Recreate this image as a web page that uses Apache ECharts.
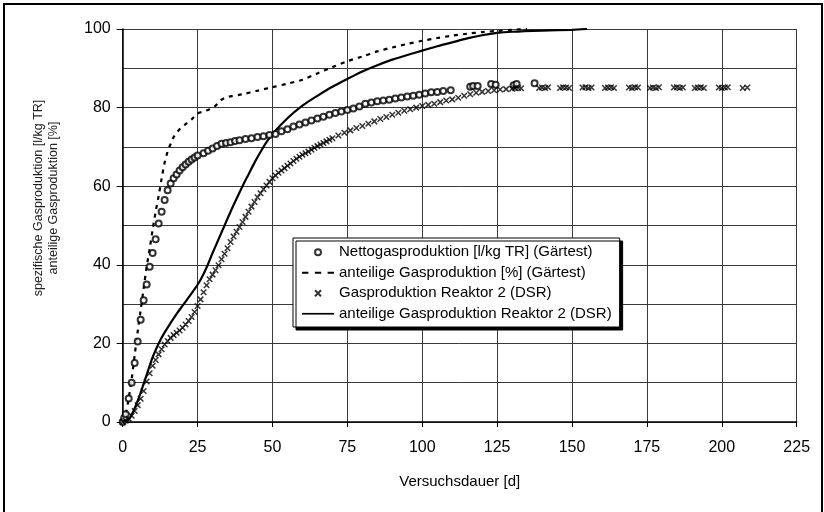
<!DOCTYPE html>
<html>
<head>
<meta charset="utf-8">
<script src="https://cdn.jsdelivr.net/npm/echarts@6/dist/echarts.min.js"></script>
<style>
html,body{margin:0;padding:0;background:#fff;}
#chart{width:824px;height:512px;}
</style>
</head>
<body>
<div id="chart"></div>
<script>
// ---- data ----
const seriesNames = [
  'Nettogasproduktion [l/kg TR] (Gärtest)',
  'anteilige Gasproduktion [%] (Gärtest)',
  'Gasproduktion Reaktor 2 (DSR)',
  'anteilige Gasproduktion Reaktor 2 (DSR)'
];
const xTicks = [0, 25, 50, 75, 100, 125, 150, 175, 200, 225];
const yTicks = [0, 20, 40, 60, 80, 100];

// Nettogasproduktion (circles)
const netDays = [0,0.5,1,2,3,4,5,6,7,8,9,10,11,12,13,14,15,16,17,18,19,20,21,22,23,24,25,
  27,28.5,30,31.5,33,34.5,36,37.5,39,
  41,43,45,47,49,51,53,55,57,59,61,63,65,67,69,71,73,75,77,79,81,83,85,87,89,91,93,95,97,99,101,103,105,107,
  109.5,116,117,118.5,123,124.5,130.5,131.5,137.5];
const netVals = [0,1,2,6,10,15,20.5,26,31,35,39.5,43,46.5,50.5,53.5,56.5,59,60.7,62,63,64,64.8,65.5,66.2,66.8,67.3,67.8,
  68.4,69,69.6,70.2,70.8,71,71.2,71.5,71.7,
  72,72.2,72.5,72.7,73,73.3,74,74.5,75.2,75.7,76.2,76.7,77.2,77.7,78.2,78.6,79,79.4,79.8,80.3,81,81.3,81.6,81.8,82,82.3,82.6,82.8,83,83.3,83.6,83.9,84,84.2,
  84.4,85.3,85.5,85.5,86,85.8,85.7,86,86.2];

// anteilige Gasproduktion Gärtest (dashed)
const dashDays = [0,1,2,3,4,5,6,7,8,9,10,11,12,13,14,15,16,17,19,21,23,25,27,29,31,33,35,
  40,45,50,55,60,65,70,75,80,85,90,95,100,105,110,115,120,125,130,135];
const dashVals = [0,2,6,11,17,23,28.5,34,39.5,44,49,53.5,57.5,62,66,68.8,70.8,72.5,74.5,75.8,77,78.5,79,79.6,80.5,82,82.7,
  83.4,84.3,85.2,86.1,87.1,88.7,90.3,91.8,93,94.3,95.3,96.2,97,97.7,98.3,98.8,99.2,99.5,99.8,100];

// Gasproduktion Reaktor 2 (x markers)
const reaDays = [0,1,2,3,4,5,6,7,8,9,10,11,12,13,14,15,16,17,18,19,20,21,22,23,24,25,26,27,28,29,
  30,31,32,33,34,35,36,37,38,39,40,41,42,43,44,45,46,47,48,49,50,51,52,53,54,55,56,57,58,59,
  60,61,62,63,64,65,66,67,68,69,70,
  72,74,76,78,80,82,84,86,88,90,92,94,96,98,100,102,104,106,108,110,112,114,116,118,
  120,122,124,126,128,
  130,131,132,133,139,140,141,142,146,147,148,149,153.5,154.5,155.5,156.5,
  161,162,163,164,169,170,171,172,176,177,178,179,184,185,186,187,
  191,192,193,194,199,200,201,202,207,208.5];
const reaVals = [0,0.3,0.8,1.6,2.8,4.3,5.9,7.9,10.3,12.4,14.3,15.8,17.2,18.5,19.7,20.6,21.4,22.1,22.7,23.3,
  24,24.8,25.7,26.7,28,29.5,31.2,33,34.8,36.3,37.5,38.6,39.9,41.4,42.8,44.2,45.8,47.2,48.4,49.6,
  50.9,52.2,53.5,54.8,56,57.2,58.2,59.2,60.2,61.1,62,62.7,63.4,64,64.6,65.2,65.8,66.4,67,67.5,
  68,68.4,68.8,69.3,69.8,70.2,70.6,71,71.4,71.8,72.2,
  72.9,73.6,74.2,74.8,75.3,75.9,76.5,77.1,77.6,78.2,78.7,79.2,79.6,80,80.4,80.7,81,81.4,81.8,82.1,82.5,83,83.4,83.8,
  84,84.2,84.4,84.6,84.7,
  84.8,84.9,85,84.9,85,85.1,85,85.2,85,85.2,85.1,85,85.1,85.2,85,85.1,
  85,85.1,85.2,85,85.1,85,85.2,85.1,85,85.1,85,85.2,85.1,85.2,85,85.1,
  85,85.1,85.2,85,85.1,85,85.1,85.2,85,85.1];

// anteilige Gasproduktion Reaktor 2 (solid)
const solDays = [0,2,4,6,8,10,12,14,16,18,20,22,24,26,28,30,32,34,36,38,40,42,44,46,48,50,
  55,60,65,70,75,80,85,90,95,100,105,110,115,120,125,130,140,150,155];
const solVals = [0,0.6,3.5,7.5,12,16.5,20,22.8,25.2,27.5,29.6,31.7,33.8,36.2,39.3,43,46.5,50,53.5,56.8,60,63,66,68.7,71.2,73.3,
  77.3,80.5,83,85.3,87.3,89.2,90.8,92.2,93.4,94.5,95.6,96.6,97.6,98.4,99,99.3,99.6,99.8,100];

// ---- chart ----
const zip = (a, b) => a.map((d, i) => [d, b[i]]);
const FONT = "'Liberation Sans', Arial, sans-serif";
const GRID = '#3a3a3a';
const chart = echarts.init(document.getElementById('chart'), null, {renderer: 'canvas'});

chart.setOption({
  animation: false,
  backgroundColor: '#fff',
  grid: {left: 122.7, right: 27.3, top: 29, bottom: 90},
  legend: {
    orient: 'vertical',
    left: 293, top: 238,
    padding: [6, 8, 5, 9],
    itemGap: 4,
    itemWidth: 32,
    itemHeight: 6,
    backgroundColor: '#fff',
    borderColor: '#000',
    borderWidth: 1,
    borderRadius: 0,
    shadowColor: '#000',
    shadowBlur: 0,
    shadowOffsetX: 3,
    shadowOffsetY: 3,
    textStyle: {fontFamily: FONT, fontSize: 15, color: '#000', lineHeight: 16.5},
    data: [
      {name: seriesNames[0]},
      {name: seriesNames[1], icon: 'path://M0,0h6v2h-6zM12,0h6v2h-6zM24,0h6v2h-6z'},
      {name: seriesNames[2]},
      {name: seriesNames[3], icon: 'path://M0,0h38v2h-38z'}
    ]
  },
  xAxis: {
    type: 'value', min: xTicks[0], max: xTicks[xTicks.length - 1], interval: 25,
    name: 'Versuchsdauer [d]', nameLocation: 'middle', nameGap: 52,
    nameTextStyle: {fontFamily: FONT, fontSize: 15, color: '#000'},
    axisLine: {lineStyle: {color: '#000', width: 1.5}},
    axisTick: {show: true, length: 5, lineStyle: {color: '#000'}},
    axisLabel: {fontFamily: FONT, fontSize: 16, color: '#000', margin: 18},
    splitLine: {show: true, lineStyle: {color: GRID, width: 1}}
  },
  yAxis: {
    type: 'value', min: yTicks[0], max: yTicks[yTicks.length - 1], interval: 20,
    axisLine: {show: true, lineStyle: {color: '#000', width: 1.5}},
    axisTick: {show: true, length: 6, lineStyle: {color: '#000'}},
    minorTick: {show: false, splitNumber: 2},
    axisLabel: {fontFamily: FONT, fontSize: 16, color: '#000', margin: 12},
    splitLine: {show: true, lineStyle: {color: GRID, width: 1}},
    minorSplitLine: {show: true, lineStyle: {color: GRID, width: 1}}
  },
  series: [
    {
      name: seriesNames[0], type: 'scatter',
      symbol: 'emptyCircle', symbolSize: 6,
      itemStyle: {color: '#000', borderColor: '#000', borderWidth: 0.8},
      data: zip(netDays, netVals), z: 4
    },
    {
      name: seriesNames[1], type: 'line',
      symbol: 'none', showSymbol: false, smooth: 0.3,
      lineStyle: {color: '#000', width: 2.2, type: [4, 5]},
      itemStyle: {color: '#000'},
      data: zip(dashDays, dashVals), z: 3
    },
    {
      name: seriesNames[2], type: 'scatter',
      symbol: 'path://M0,0L10,10M10,0L0,10', symbolSize: 5.5,
      itemStyle: {color: 'rgba(0,0,0,0)', borderColor: '#000', borderWidth: 1.5},
      data: zip(reaDays, reaVals), z: 4
    },
    {
      name: seriesNames[3], type: 'line',
      symbol: 'none', showSymbol: false, smooth: 0.3,
      lineStyle: {color: '#000', width: 2.2, type: 'solid'},
      itemStyle: {color: '#000'},
      data: zip(solDays, solVals), z: 3
    }
  ],
  graphic: [
    {
      type: 'rect', silent: true, z: 0,
      shape: {x: 4, y: 4, width: 818, height: 530},
      style: {fill: null, stroke: '#000', lineWidth: 2}
    },
    {
      type: 'text', x: 46, y: 198, rotation: Math.PI / 2, silent: true,
      style: {
        text: 'spezifische Gasproduktion [l/kg TR]\nanteilige Gasproduktion [%]',
        fontFamily: FONT, fontSize: 12.5, lineHeight: 15, fill: '#222',
        textAlign: 'center', textVerticalAlign: 'middle', align: 'center', verticalAlign: 'middle'
      }
    }
  ]
});
</script>
</body>
</html>
